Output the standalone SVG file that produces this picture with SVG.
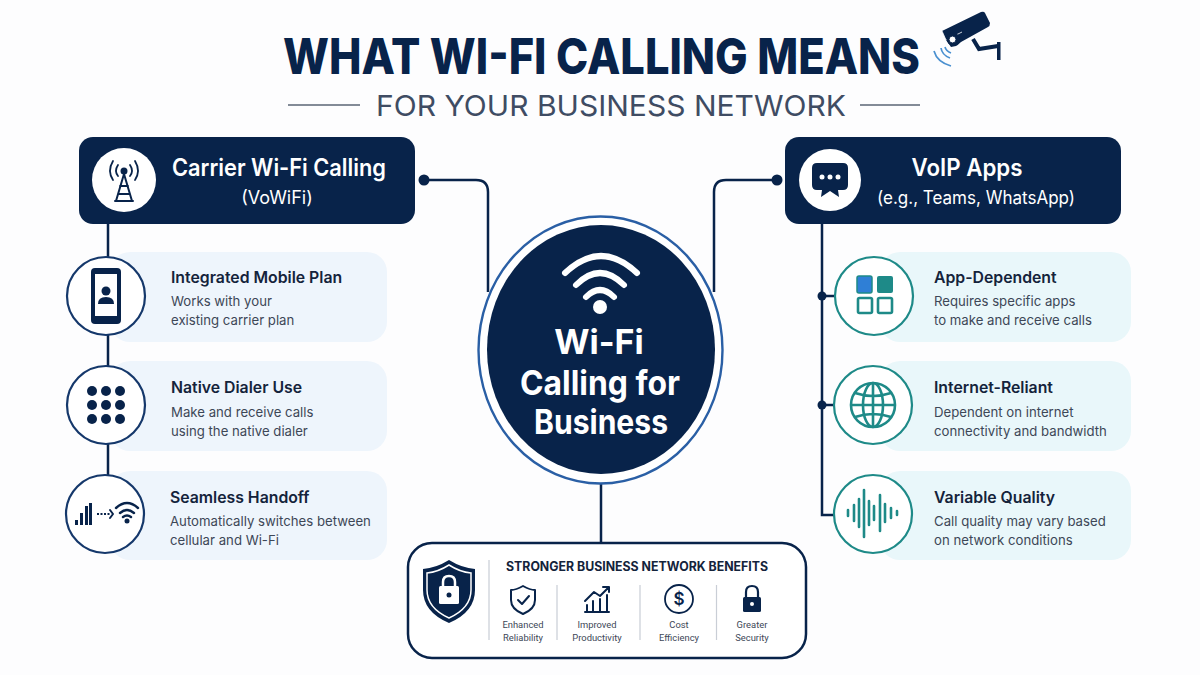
<svg xmlns="http://www.w3.org/2000/svg" width="1200" height="675" viewBox="0 0 1200 675">
<style>
text{font-family:Inter,"Liberation Sans",sans-serif}
.navy{fill:#08234a}.hd{fill:#fff;font-weight:600}
.pt{fill:#14233b;font-size:15.800px;font-weight:600}
.pd{fill:#3d4757;font-size:13.200px}
.bl{fill:#3d4757;font-size:9.400px;text-anchor:middle;font-family:Roboto,"Liberation Sans",sans-serif}
.cn{fill:none;stroke:#08234a;stroke-width:2.500}
.ring{fill:#fff;stroke:#15386b;stroke-width:2.200}
.ringt{fill:#fff;stroke:#1e8a88;stroke-width:2.200}
.lp{fill:#eef5fc}.rp{fill:#e9f7fa}
.teal{fill:none;stroke:#1e8a88;stroke-width:2.600}
.tb{stroke:#1e8a88;stroke-width:2.600;stroke-linecap:round}
.ic{fill:none;stroke:#08234a;stroke-width:2;stroke-linecap:round;stroke-linejoin:round}
.dv{stroke:#c9ced6;stroke-width:1.200}
.wh{fill:none;stroke:#fff;stroke-width:6;stroke-linecap:round}
</style>
<rect width="1200" height="675" fill="#fdfdfe"/>
<g id="title">
<text x="283" y="74" textLength="637" lengthAdjust="spacingAndGlyphs" font-size="50" font-weight="800" fill="#08234a">WHAT WI-FI CALLING MEANS</text>
<text x="376" y="116" textLength="470" lengthAdjust="spacingAndGlyphs" font-size="29" fill="#3f4c63">FOR YOUR BUSINESS NETWORK</text>
<path d="M288 105H360M860 105H920" stroke="#5b6676" stroke-width="1.500"/>
</g>
<g id="camera">
<path d="M942 31L981 12Q984 11 985 13L990 23Q990 26 988 27L961 42Q958 45 956 46L951 47L946 40Z" fill="#08234a"/>
<path d="M942 31L946 40L962 32" fill="none" stroke="#fff" stroke-width="0.800"/>
<circle cx="953" cy="39" r="6.500" fill="#08234a"/><circle cx="952.500" cy="39.500" r="3.500" fill="#fff" stroke="#08234a" stroke-width="1"/>
<path d="M973 39L979 49L998 46" fill="none" stroke="#08234a" stroke-width="4"/>
<rect x="997" y="42" width="3.500" height="18" fill="#08234a"/>
<path d="M945 47Q946 51 951 53M941 48Q942 55 950 58M934 51Q937 62 951 66" fill="none" stroke="#4a90d0" stroke-width="1.700"/>
</g>
<g id="connectors">
<path class="cn" d="M424 180H476Q488 180 488 192V292"/>
<path class="cn" d="M777 180H726Q714 180 714 192V292"/>
<circle cx="424" cy="180" r="5.500" class="navy"/><circle cx="777" cy="180" r="5.500" class="navy"/>
<path class="cn" d="M108 224V262M108 335V368M108 444V478"/>
<path class="cn" d="M822 224V515H836M822 296H836M822 405H836"/>
<circle cx="822" cy="296" r="4.500" class="navy"/><circle cx="822" cy="405" r="4.500" class="navy"/>
<path class="cn" d="M601 484V543"/>
</g>
<g id="center">
<ellipse cx="600.500" cy="350" rx="122" ry="133.500" fill="#fff" stroke="#2a5fa5" stroke-width="2.400"/>
<ellipse cx="601" cy="349.500" rx="114" ry="124.500" class="navy"/>
<path class="wh" d="M565 273Q601 239 637 273"/>
<path class="wh" d="M576 285Q600 261 624 285"/>
<path class="wh" d="M586 297Q600 283 614 297"/>
<circle cx="600" cy="307" r="7" fill="#fff"/>
<g fill="#fff" font-size="34" font-weight="700" text-anchor="middle">
<text x="599" y="354">Wi-Fi</text><text x="600" y="395" textLength="160" lengthAdjust="spacingAndGlyphs">Calling for</text><text x="601" y="434" textLength="134" lengthAdjust="spacingAndGlyphs">Business</text></g>
</g>
<g id="carrier">
<rect x="79" y="137" width="336" height="87" rx="14" class="navy"/>
<circle cx="124" cy="180" r="32" fill="#fff"/>
<g class="ic"><path d="M124 174L116 201M124 174L132 201M120 186H128M118 194H130M115 201H133"/>
<circle cx="124" cy="171" r="2.500" fill="#08234a"/>
<path d="M118 176Q114 171 118 165M130 176Q134 171 130 165M113 180Q107 171 113 161M135 180Q141 171 135 161" stroke-width="1.800"/></g>
<text class="hd" x="172" y="176" font-size="24" textLength="214" lengthAdjust="spacingAndGlyphs">Carrier Wi-Fi Calling</text>
<text class="hd" x="277" y="204" font-size="18" style="font-weight:400" text-anchor="middle">(VoWiFi)</text>
</g>
<g id="voip">
<rect x="785" y="137" width="336" height="87" rx="14" class="navy"/>
<circle cx="830" cy="180" r="31" fill="#fff"/>
<path d="M817 163H843Q848 163 848 168V185Q848 190 843 190H838L839 197L830 191L821 197L822 190H817Q812 190 812 185V168Q812 163 817 163Z" class="navy"/>
<circle cx="822" cy="177" r="2.500" fill="#fff"/><circle cx="830" cy="177" r="2.500" fill="#fff"/><circle cx="838" cy="177" r="2.500" fill="#fff"/>
<text class="hd" x="967" y="176" font-size="24" text-anchor="middle" textLength="111" lengthAdjust="spacingAndGlyphs">VoIP Apps</text>
<text class="hd" x="976" y="204" font-size="18" style="font-weight:400" text-anchor="middle" textLength="198" lengthAdjust="spacingAndGlyphs">(e.g., Teams, WhatsApp)</text>
</g>
<g id="integrated-plan">
<rect x="110" y="252" width="277" height="90" rx="20" class="lp"/>
<circle cx="106" cy="296" r="39" class="ring"/>
<rect x="91" y="268" width="30" height="56" rx="4" class="navy"/><rect x="95" y="274" width="22" height="42" fill="#fff"/>
<circle cx="106" cy="291" r="4.500" class="navy"/><path d="M98 304Q98 297 106 297Q114 297 114 304Z" class="navy"/>
<text class="pt" x="171" y="283">Integrated Mobile Plan</text>
<text class="pd" x="171" y="306">Works with your</text><text class="pd" x="171" y="325">existing carrier plan</text>
</g>
<g id="native-dialer">
<rect x="110" y="361" width="277" height="90" rx="20" class="lp"/>
<circle cx="106" cy="405" r="39" class="ring"/>
<g class="navy"><circle cx="92" cy="391" r="5"/><circle cx="106" cy="391" r="5"/><circle cx="120" cy="391" r="5"/><circle cx="92" cy="405" r="5"/><circle cx="106" cy="405" r="5"/><circle cx="120" cy="405" r="5"/><circle cx="92" cy="419" r="5"/><circle cx="106" cy="419" r="5"/><circle cx="120" cy="419" r="5"/></g>
<text class="pt" x="171" y="393">Native Dialer Use</text>
<text class="pd" x="171" y="417">Make and receive calls</text><text class="pd" x="171" y="436">using the native dialer</text>
</g>
<g id="seamless-handoff">
<rect x="110" y="471" width="277" height="89" rx="20" class="lp"/>
<circle cx="105" cy="514" r="39" class="ring"/>
<g class="navy"><rect x="75" y="520" width="3" height="5"/><rect x="80" y="513" width="3" height="12"/><rect x="85" y="506" width="3" height="19"/><rect x="89" y="503" width="3" height="22"/></g>
<path d="M97 514H111" stroke="#08234a" stroke-width="1.800" stroke-dasharray="2 1.500" fill="none"/><path d="M110 510L113 514L110 518" class="ic" stroke-width="1.500"/>
<path d="M116 508Q127 498 138 508M120 513Q127 507 134 513M123 517Q127 514 131 517" fill="none" stroke="#08234a" stroke-width="2.400" stroke-linecap="round"/>
<circle cx="127" cy="521" r="2.500" class="navy"/>
<text class="pt" x="170" y="503">Seamless Handoff</text>
<text class="pd" x="170" y="526">Automatically switches between</text><text class="pd" x="170" y="545">cellular and Wi-Fi</text>
</g>
<g id="app-dependent">
<rect x="880" y="252" width="251" height="90" rx="20" class="rp"/>
<circle cx="874" cy="296" r="39" class="ringt"/>
<rect x="857" y="276" width="15" height="17" rx="2" fill="#2f7fd6" stroke="#1e8a88" stroke-width="1.500"/>
<rect x="877" y="276" width="16" height="17" rx="2" fill="#1e8a88"/>
<rect x="858" y="298" width="14" height="15" rx="1.500" class="teal"/><rect x="878" y="298" width="14" height="15" rx="1.500" class="teal"/>
<text class="pt" x="934" y="283">App-Dependent</text>
<text class="pd" x="934" y="306">Requires specific apps</text><text class="pd" x="934" y="325">to make and receive calls</text>
</g>
<g id="internet-reliant">
<rect x="880" y="361" width="251" height="90" rx="20" class="rp"/>
<circle cx="873" cy="405" r="39" class="ringt"/>
<circle cx="873" cy="405" r="22" class="teal"/><ellipse cx="873" cy="405" rx="10" ry="22" class="teal"/>
<path d="M851 405H895M873 383V427M855 393Q873 399 891 393M855 417Q873 411 891 417" class="teal"/>
<text class="pt" x="934" y="393">Internet-Reliant</text>
<text class="pd" x="934" y="417">Dependent on internet</text><text class="pd" x="934" y="436">connectivity and bandwidth</text>
</g>
<g id="variable-quality">
<rect x="880" y="471" width="251" height="89" rx="20" class="rp"/>
<circle cx="873" cy="514" r="39" class="ringt"/>
<path class="tb" d="M848 510V516M854 505V521M859 499V527M864 490V537M869 501V525M874 506V520M880 495V531M885 504V522M891 508V518M897 511V515"/>
<text class="pt" x="934" y="503">Variable Quality</text>
<text class="pd" x="934" y="526">Call quality may vary based</text><text class="pd" x="934" y="545">on network conditions</text>
</g>
<g id="benefits">
<rect x="408" y="543" width="398" height="115" rx="24" fill="#fff" stroke="#08234a" stroke-width="2.500"/>
<path d="M449 560Q462 568 475 569V590Q475 612 449 623Q423 612 423 590V569Q436 568 449 560Z" class="navy"/>
<path d="M449 565Q460 572 471 573V590Q471 608 449 618Q427 608 427 590V573Q438 572 449 565Z" fill="none" stroke="#fff" stroke-width="1.500"/>
<rect x="439" y="586" width="20" height="18" rx="1.500" fill="#fff"/><path d="M443 586V582Q443 576 449 576Q455 576 455 582V586" fill="none" stroke="#fff" stroke-width="2.500"/><circle cx="449" cy="595" r="2.500" class="navy"/>
<path class="dv" d="M489 560V640M557 585V640M640 585V640M716.500 585V640"/>
<text x="637" y="571" font-size="12.500" font-weight="700" fill="#14233b" text-anchor="middle" textLength="262" lengthAdjust="spacingAndGlyphs">STRONGER BUSINESS NETWORK BENEFITS</text>
<path class="ic" stroke-width="1.600" d="M523 586Q530 590 535 590V600Q535 609 523 614Q511 609 511 600V590Q516 590 523 586Z"/><path class="ic" stroke-width="1.600" d="M518 600L522 604L529 596"/>
<path class="ic" d="M585 612H609M587 605V611M593 601V611M600 599V611M607 595V611M585 601L594 592L600 596L609 587M603 587H609V592"/>
<circle cx="679" cy="599" r="14" fill="none" stroke="#08234a" stroke-width="1.800"/><text x="679" y="605" font-size="17" font-weight="600" fill="#08234a" text-anchor="middle">$</text>
<rect x="743" y="597" width="18" height="15" rx="1.500" class="navy"/><path d="M746 597V592Q746 586 752 586Q758 586 758 592V597" fill="none" stroke="#08234a" stroke-width="2.200"/><circle cx="752" cy="604" r="2" fill="#fff"/>
<text class="bl" x="523" y="628">Enhanced</text><text class="bl" x="523" y="641">Reliability</text>
<text class="bl" x="597" y="628">Improved</text><text class="bl" x="597" y="641">Productivity</text>
<text class="bl" x="679" y="628">Cost</text><text class="bl" x="679" y="641">Efficiency</text>
<text class="bl" x="752" y="628">Greater</text><text class="bl" x="752" y="641">Security</text>
</g>
</svg>
